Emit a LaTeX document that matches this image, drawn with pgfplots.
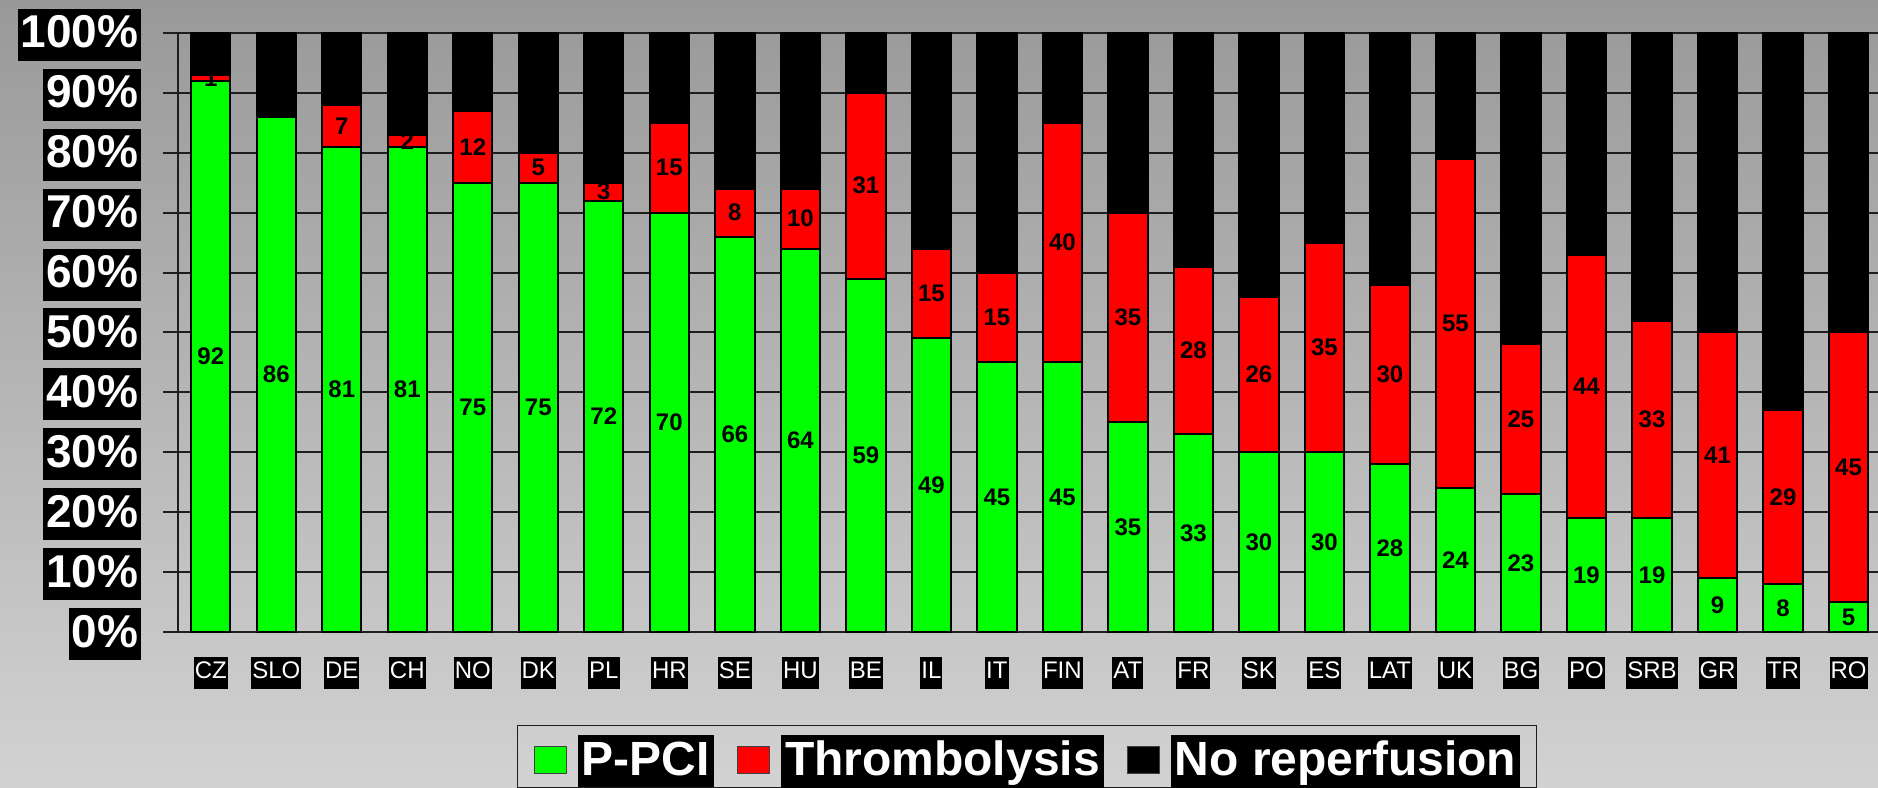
\documentclass[border=0pt]{standalone}
\usepackage{pgfplots}
\pgfplotsset{compat=1.18}
\usepackage{pgfplotstable}
\usepackage{fontspec}
\setmainfont{Liberation Sans}

\definecolor{pgreen}{HTML}{00FF00}
\definecolor{tred}{HTML}{FF0000}
\definecolor{bgtop}{HTML}{999999}
\definecolor{bgbot}{HTML}{D2D2D2}
\definecolor{gridc}{HTML}{1E1E1E}

% white-on-black legend label
\newcommand\legtext[1]{{\fboxsep=2pt\colorbox{black}{\rule[-3.5pt]{0pt}{22pt}\textcolor{white}{\bfseries\fontsize{24pt}{24pt}\selectfont #1}}}}

% reperfusion strategy by country, percent of patients
\pgfplotstableread{
x  name pci thr none
0  CZ   92  1   7
1  SLO  86  0   14
2  DE   81  7   12
3  CH   81  2   17
4  NO   75  12  13
5  DK   75  5   20
6  PL   72  3   25
7  HR   70  15  15
8  SE   66  8   26
9  HU   64  10  26
10 BE   59  31  10
11 IL   49  15  36
12 IT   45  15  40
13 FIN  45  40  15
14 AT   35  35  30
15 FR   33  28  39
16 SK   30  26  44
17 ES   30  35  35
18 LAT  28  30  42
19 UK   24  55  21
20 BG   23  25  52
21 PO   19  44  37
22 SRB  19  33  48
23 GR   9   41  50
24 TR   8   29  63
25 RO   5   45  50
}\data

% value label centred inside its own stacked segment
\pgfplotsset{
  seglabel/.style={
    point meta=explicit,
    nodes near coords={\pgfmathprintnumber[assume math mode=true]{\pgfplotspointmeta}},
    nodes near coords align={center},
    every node near coord/.style={text=black, anchor=center,
      font=\bfseries\fontsize{12pt}{12pt}\selectfont},
  },
}

\begin{document}
\begin{tikzpicture}
\useasboundingbox (0,0) rectangle (939pt,393.5pt);
\shade[top color=bgtop, bottom color=bgbot] (0,0) rectangle (939pt,393.5pt);
\begin{axis}[
  at={(89pt,77.5pt)}, anchor=south west,
  scale only axis, width=850pt, height=299.5pt,
  xmin=-0.5, xmax=25.45, ymin=0, ymax=100,
  ybar stacked, bar width=0.6,
  axis lines*=left,
  axis line style={gridc, line width=1pt},
  tick align=outside,
  major tick length=7.5pt, minor tick length=4pt,
  xtick={0,...,25},
  xticklabels={CZ,SLO,DE,CH,NO,DK,PL,HR,SE,HU,BE,IL,IT,FIN,AT,FR,SK,ES,LAT,UK,BG,PO,SRB,GR,TR,RO},
  xtick style={draw=none},
  minor xtick={-0.5,0.5,...,25.5},
  minor x tick style={gridc, line width=1pt},
  ytick={0,10,...,100},
  yticklabels={0\%,10\%,20\%,30\%,40\%,50\%,60\%,70\%,80\%,90\%,100\%},
  y tick style={gridc, line width=1pt},
  ymajorgrids, grid style={gridc, line width=1pt},
  xticklabel style={anchor=base, yshift=-15.5pt, fill=black, text=white,
    inner xsep=0.5pt, inner ysep=0pt, text height=10.5pt, text depth=5.5pt,
    font=\fontsize{12pt}{12pt}\selectfont},
  yticklabel style={anchor=base east, xshift=-10.7pt, yshift=-7.5pt, fill=black, text=white,
    inner xsep=1.5pt, inner ysep=0pt, text height=19.5pt, text depth=6.5pt,
    font=\bfseries\fontsize{23pt}{23pt}\selectfont},
  every axis plot/.append style={draw=black, line width=1pt},
  legend image code/.code={\draw[#1, draw=black!75, line width=0.6pt] (0pt,1pt) rectangle (16pt,14.5pt);},
  legend columns=3,
  legend cell align=left,
  legend style={at={(0.1994,-0.1553)}, anchor=north west, draw=gridc, line width=0.6pt,
    fill=none, inner xsep=8pt, inner ysep=4.5pt,
    nodes={inner sep=0pt, anchor=base west},
    /tikz/every odd column/.append style={column sep=5.5pt},
    /tikz/every even column/.append style={column sep=11.5pt}},
]
\addplot[fill=pgreen, seglabel]
  table[x=x, y=pci, meta=pci] {\data};
\addlegendentry{\legtext{P-PCI}}
\addplot[fill=tred, seglabel]
  table[x=x, y=thr, meta=thr] {\data};
\addlegendentry{\legtext{Thrombolysis}}
\addplot[fill=black]
  table[x=x, y=none] {\data};
\addlegendentry{\legtext{No reperfusion}}
\end{axis}
\end{tikzpicture}
\end{document}
